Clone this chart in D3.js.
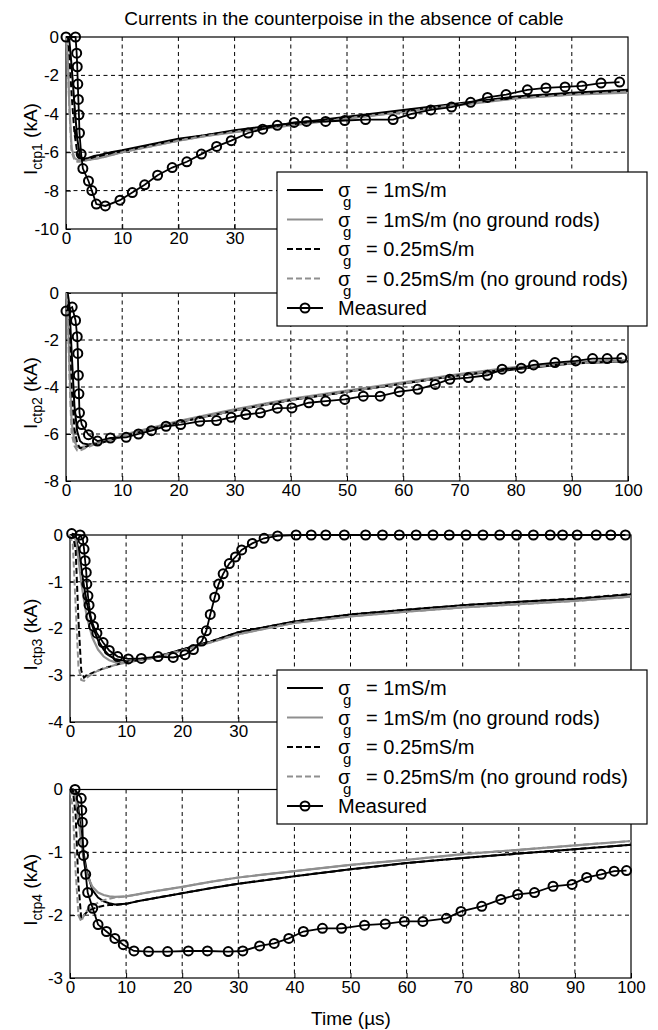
<!DOCTYPE html>
<html>
<head>
<meta charset="utf-8">
<script src="https://cdn.jsdelivr.net/npm/d3@7"></script>
<style>
  body { margin: 0; background: #fff; }
  svg { display: block; font-family: "Liberation Sans", Arial, sans-serif; }
</style>
</head>
<body>
<div id="chart"></div>
<script>
// ---- data ----
const xTicks = [0, 10, 20, 30, 40, 50, 60, 70, 80, 90, 100];

// panel 1 (ctp1)
const p1MeasT = [0, 1.7, 1.9, 2.0, 2.1, 2.2, 2.3, 2.4, 2.7, 3.0, 4.0, 4.6, 5.4, 7.0, 9.6, 11.8, 14.0, 16.3, 18.9, 21.5, 24.1, 26.8, 29.4, 32.4, 35.0, 37.6, 40.6, 42.8, 46.2, 49.6, 53.3, 58.2, 61.5, 64.9, 68.6, 72.0, 75.0, 78.3, 82.1, 85.4, 88.8, 91.8, 95.2, 98.5];
const p1Meas = [0, 0, -0.84, -1.55, -2.45, -3.25, -4.05, -5.0, -6.1, -6.85, -7.5, -8.0, -8.7, -8.8, -8.5, -8.1, -7.7, -7.2, -6.8, -6.5, -6.1, -5.7, -5.4, -5.0, -4.8, -4.6, -4.45, -4.4, -4.4, -4.35, -4.3, -4.3, -4.0, -3.8, -3.65, -3.4, -3.15, -3.0, -2.75, -2.65, -2.6, -2.55, -2.4, -2.35];
const p1SimT = [0, 0.3, 0.6, 1, 1.5, 2, 2.5, 3, 4, 5, 6, 8, 10, 15, 20, 25, 30, 40, 50, 60, 70, 80, 90, 100];
const p1S1 = [0, 0, -0.2, -1.5, -3.5, -5.3, -6.2, -6.35, -6.3, -6.2, -6.15, -6.0, -5.9, -5.6, -5.3, -5.1, -4.85, -4.5, -4.15, -3.8, -3.45, -3.1, -2.9, -2.75];
const p1S1NR = [0, -1.0, -3.5, -5.8, -6.3, -6.4, -6.45, -6.45, -6.4, -6.35, -6.3, -6.15, -6.0, -5.7, -5.4, -5.15, -4.95, -4.6, -4.25, -3.9, -3.55, -3.2, -3.0, -2.9];
const p1S025 = [0, -0.1, -1.0, -3.0, -5.0, -6.0, -6.4, -6.4, -6.35, -6.25, -6.2, -6.05, -5.95, -5.65, -5.35, -5.1, -4.9, -4.55, -4.2, -3.85, -3.5, -3.15, -2.95, -2.8];
const p1S025NR = [0, -1.2, -3.8, -6.0, -6.4, -6.5, -6.5, -6.45, -6.4, -6.35, -6.3, -6.15, -6.0, -5.7, -5.4, -5.15, -4.95, -4.6, -4.25, -3.9, -3.5, -3.2, -3.0, -2.85];

// panel 2 (ctp2)
const p2MeasT = [0, 1.1, 1.7, 2.0, 2.1, 2.2, 2.3, 2.4, 2.8, 4.0, 5.6, 7.9, 10.7, 12.9, 15.2, 17.8, 20.4, 23.8, 26.8, 29.4, 32.0, 34.6, 37.6, 40.2, 43.2, 46.2, 49.6, 52.9, 55.9, 59.3, 62.6, 65.7, 68.3, 71.6, 75.0, 77.6, 81.0, 83.2, 87.0, 90.7, 93.7, 96.3, 98.9];
const p2Meas = [-0.77, -0.6, -1.17, -1.86, -2.57, -3.5, -4.29, -5.1, -5.6, -6.03, -6.3, -6.17, -6.14, -6.0, -5.86, -5.67, -5.6, -5.46, -5.43, -5.29, -5.17, -5.1, -4.9, -4.89, -4.67, -4.6, -4.53, -4.39, -4.39, -4.2, -4.1, -3.89, -3.67, -3.6, -3.5, -3.24, -3.2, -3.06, -2.96, -2.89, -2.79, -2.79, -2.77];
const p2SimT = p1SimT;
const p2S1 = [0, 0, -0.5, -2.5, -4.8, -5.9, -6.3, -6.4, -6.45, -6.4, -6.35, -6.2, -6.1, -5.8, -5.5, -5.25, -5.0, -4.55, -4.2, -3.85, -3.5, -3.25, -3.0, -2.9];
const p2S1NR = [0, -0.6, -3.0, -5.5, -6.3, -6.55, -6.6, -6.55, -6.5, -6.4, -6.35, -6.2, -6.05, -5.75, -5.45, -5.2, -4.95, -4.5, -4.15, -3.8, -3.45, -3.15, -2.95, -2.85];
const p2S025 = [0, -0.2, -1.5, -4.0, -5.8, -6.4, -6.6, -6.6, -6.5, -6.45, -6.4, -6.25, -6.1, -5.8, -5.5, -5.25, -5.0, -4.55, -4.2, -3.85, -3.5, -3.2, -3.0, -2.9];
const p2S025NR = [0, -0.8, -3.5, -6.0, -6.5, -6.7, -6.7, -6.65, -6.55, -6.45, -6.4, -6.25, -6.1, -5.8, -5.5, -5.25, -5.0, -4.55, -4.2, -3.85, -3.5, -3.2, -3.0, -2.9];

// panel 3 (ctp3)
const p3MeasT = [0.3, 1.8, 2.3, 2.5, 2.7, 2.9, 3.0, 3.2, 3.4, 3.7, 4.2, 4.8, 5.9, 7.0, 8.5, 10.4, 12.7, 15.7, 18.4, 20.5, 22.0, 23.5, 24.3, 25.0, 25.8, 26.5, 27.3, 28.4, 29.5, 30.6, 32.5, 34.6, 37.0, 40.3, 43.0, 45.6, 48.9, 52.7, 55.7, 58.7, 61.7, 64.7, 67.6, 70.6, 73.6, 76.6, 79.6, 82.6, 85.6, 87.8, 90.4, 93.8, 96.4, 99.0];
const p3Meas = [0.03, 0, -0.1, -0.3, -0.55, -0.8, -1.05, -1.3, -1.5, -1.75, -1.95, -2.1, -2.3, -2.47, -2.6, -2.65, -2.64, -2.6, -2.62, -2.56, -2.45, -2.27, -2.05, -1.7, -1.33, -1.05, -0.83, -0.61, -0.47, -0.32, -0.18, -0.07, -0.02, 0, 0, 0, 0, 0, 0, 0, 0, 0, 0, 0, 0, 0, 0, 0, 0, 0, 0, 0, 0, 0];
const p3SimT = [0, 0.5, 1, 1.5, 2, 2.5, 3, 4, 5, 6, 7, 8, 10, 12, 15, 20, 25, 30, 40, 50, 60, 70, 80, 90, 100];
const p3S1 = [0, 0, -0.05, -0.3, -0.7, -1.1, -1.45, -1.95, -2.25, -2.45, -2.58, -2.65, -2.7, -2.68, -2.62, -2.45, -2.28, -2.08, -1.85, -1.7, -1.6, -1.5, -1.43, -1.37, -1.27];
const p3S1NR = [0, 0, -0.1, -0.5, -1.0, -1.4, -1.75, -2.2, -2.45, -2.6, -2.68, -2.72, -2.72, -2.68, -2.62, -2.47, -2.3, -2.12, -1.88, -1.74, -1.64, -1.55, -1.48, -1.41, -1.32];
const p3S025 = [0, 0, -0.3, -1.8, -2.9, -3.05, -3.0, -2.95, -2.9, -2.85, -2.82, -2.78, -2.72, -2.68, -2.62, -2.45, -2.28, -2.08, -1.85, -1.7, -1.6, -1.5, -1.43, -1.36, -1.26];
const p3S025NR = [0, -0.2, -1.5, -2.8, -3.1, -3.12, -3.05, -2.97, -2.9, -2.86, -2.82, -2.78, -2.73, -2.69, -2.63, -2.47, -2.3, -2.12, -1.88, -1.74, -1.64, -1.55, -1.48, -1.41, -1.32];

// panel 4 (ctp4)
const p4MeasT = [0.9, 2.0, 2.1, 2.2, 2.3, 2.4, 2.8, 3.15, 4.05, 5.0, 6.5, 8.0, 9.5, 11.4, 14, 17.4, 21.1, 24.5, 28.2, 30.8, 33.8, 36.4, 39, 41.6, 45, 48.4, 52.5, 56.2, 59.6, 62.9, 67.1, 69.7, 73.4, 76.8, 79.8, 82.8, 86.1, 89.5, 92.1, 94.7, 97, 99.2];
const p4Meas = [0, -0.14, -0.33, -0.52, -0.84, -1.05, -1.35, -1.64, -1.89, -2.15, -2.26, -2.37, -2.47, -2.57, -2.58, -2.58, -2.57, -2.57, -2.58, -2.57, -2.49, -2.45, -2.37, -2.26, -2.21, -2.21, -2.16, -2.14, -2.1, -2.1, -2.05, -1.94, -1.86, -1.75, -1.67, -1.64, -1.54, -1.51, -1.4, -1.35, -1.3, -1.29];
const p4SimT = p3SimT;
const p4S1 = [0, 0, -0.05, -0.3, -0.7, -1.05, -1.3, -1.6, -1.72, -1.78, -1.81, -1.83, -1.82, -1.78, -1.73, -1.65, -1.57, -1.5, -1.38, -1.27, -1.17, -1.09, -1.02, -0.95, -0.88];
const p4S1NR = [0, 0, -0.1, -0.45, -0.85, -1.15, -1.35, -1.55, -1.64, -1.68, -1.7, -1.71, -1.7, -1.67, -1.62, -1.55, -1.47, -1.4, -1.3, -1.2, -1.12, -1.03, -0.96, -0.89, -0.82];
const p4S025 = [0, 0, -0.4, -1.5, -2.05, -2.0, -1.95, -1.9, -1.87, -1.85, -1.84, -1.84, -1.82, -1.78, -1.73, -1.65, -1.57, -1.5, -1.38, -1.27, -1.17, -1.09, -1.02, -0.95, -0.88];
const p4S025NR = [0, -0.3, -1.3, -2.0, -2.1, -2.0, -1.93, -1.85, -1.8, -1.76, -1.74, -1.72, -1.7, -1.67, -1.62, -1.55, -1.47, -1.4, -1.3, -1.2, -1.12, -1.03, -0.96, -0.89, -0.82];

const legendLabels = ["= 1mS/m", "= 1mS/m (no ground rods)", "= 0.25mS/m", "= 0.25mS/m (no ground rods)", "Measured"];

// ---- layout ----
const width = 658, height = 1030;
const FONT = 17;
const LEG_X = 277;

const styles = [
  { color: "#000", dash: null, w: 2 },
  { color: "#8f8f8f", dash: null, w: 2.2 },
  { color: "#000", dash: "6,3", w: 2 },
  { color: "#8f8f8f", dash: "6,3", w: 2 }
];

// legendBelow: legend box sits over this panel's x tick labels
const panels = [
  { left: 66, right: 628, top: 37, bottom: 229, ymin: -10, step: 2, sub: "ctp1", legendBelow: true,
    measT: p1MeasT, meas: p1Meas, simT: p1SimT, sims: [p1S1, p1S1NR, p1S025, p1S025NR] },
  { left: 66, right: 628, top: 293, bottom: 481, ymin: -8, step: 2, sub: "ctp2", legendBelow: false,
    measT: p2MeasT, meas: p2Meas, simT: p2SimT, sims: [p2S1, p2S1NR, p2S025, p2S025NR] },
  { left: 70, right: 631, top: 535, bottom: 722, ymin: -4, step: 1, sub: "ctp3", legendBelow: true,
    measT: p3MeasT, meas: p3Meas, simT: p3SimT, sims: [p3S1, p3S1NR, p3S025, p3S025NR] },
  { left: 70, right: 631, top: 789.5, bottom: 978, ymin: -3, step: 1, sub: "ctp4", legendBelow: false,
    measT: p4MeasT, meas: p4Meas, simT: p4SimT, sims: [p4S1, p4S1NR, p4S025, p4S025NR] }
];

const svg = d3.select("#chart").append("svg")
  .attr("width", width)
  .attr("height", height);

svg.append("text")
  .attr("x", 344).attr("y", 25)
  .attr("text-anchor", "middle")
  .style("font-size", "19px")
  .text("Currents in the counterpoise in the absence of cable");

panels.forEach(p => {
  const x = d3.scaleLinear().domain([0, 100]).range([p.left, p.right]);
  const y = d3.scaleLinear().domain([p.ymin, 0]).range([p.bottom, p.top]);
  const yTicks = d3.range(p.ymin, 0.001, p.step);

  const g = svg.append("g");

  // grid
  g.append("g").selectAll("line")
    .data(xTicks.slice(1, -1))
    .join("line")
    .attr("x1", d => x(d)).attr("x2", d => x(d))
    .attr("y1", p.top).attr("y2", p.bottom)
    .attr("stroke", "#000").attr("stroke-width", 1)
    .attr("stroke-dasharray", "4,3.5");
  g.append("g").selectAll("line")
    .data(yTicks.slice(1, -1))
    .join("line")
    .attr("x1", p.left).attr("x2", p.right)
    .attr("y1", d => y(d)).attr("y2", d => y(d))
    .attr("stroke", "#000").attr("stroke-width", 1)
    .attr("stroke-dasharray", "4,3.5");

  // axes
  const xAxis = g.append("g")
    .attr("transform", `translate(0,${p.bottom})`)
    .call(d3.axisBottom(x).tickValues(xTicks).tickSizeInner(-5).tickSizeOuter(0).tickPadding(3));
  const yAxis = g.append("g")
    .attr("transform", `translate(${p.left},0)`)
    .call(d3.axisLeft(y).tickValues(yTicks).tickFormat(d3.format("d")).tickSizeInner(-5).tickSizeOuter(0).tickPadding(7));
  [xAxis, yAxis].forEach(a => {
    a.select(".domain").remove();
    a.selectAll("text").style("font-size", FONT + "px").attr("fill", "#000")
      .style("font-family", "\"Liberation Sans\", Arial, sans-serif");
    a.selectAll("line").attr("stroke", "#000");
  });
  yAxis.selectAll("text").text(d => String(d).replace("\u2212", "-"));
  // labels hidden behind the legend box in the figure
  if (p.legendBelow) {
    xAxis.selectAll(".tick text").filter(d => x(d) > LEG_X - 10).remove();
  }

  // box
  g.append("rect")
    .attr("x", p.left).attr("y", p.top)
    .attr("width", p.right - p.left).attr("height", p.bottom - p.top)
    .attr("fill", "none").attr("stroke", "#000").attr("stroke-width", 1.2);

  // simulated curves
  const line = d3.line().x(d => x(d[0])).y(d => y(d[1]));
  p.sims.forEach((s, i) => {
    const pts = p.simT.map((t, k) => [t, s[k]]);
    g.append("path")
      .attr("d", line(pts))
      .attr("fill", "none")
      .attr("stroke", styles[i].color)
      .attr("stroke-width", styles[i].w)
      .attr("stroke-dasharray", styles[i].dash);
  });

  // measured
  const mpts = p.measT.map((t, k) => [t, p.meas[k]]);
  g.append("path")
    .attr("d", line(mpts))
    .attr("fill", "none").attr("stroke", "#000").attr("stroke-width", 1.8);
  g.append("g").selectAll("circle")
    .data(mpts)
    .join("circle")
    .attr("cx", d => x(d[0])).attr("cy", d => y(d[1]))
    .attr("r", 4.5)
    .attr("fill", "none").attr("stroke", "#000").attr("stroke-width", 2);

  // y label: I_ctpN (kA)
  const cy = (p.top + p.bottom) / 2 + 6;
  const lab = g.append("text")
    .attr("transform", `translate(37,${cy}) rotate(-90)`)
    .attr("text-anchor", "middle")
    .style("font-size", "19px");
  lab.append("tspan").text("I");
  lab.append("tspan").attr("dy", 5).style("font-size", "14px").text(p.sub);
  lab.append("tspan").attr("dy", -5).text(" (kA)");
});

// x label
svg.append("text")
  .attr("x", 351).attr("y", 1025)
  .attr("text-anchor", "middle")
  .style("font-size", "19px")
  .text("Time (\u00b5s)");

// legends
function drawLegend(top) {
  const lg = svg.append("g");
  lg.append("rect")
    .attr("x", LEG_X).attr("y", top)
    .attr("width", 370).attr("height", 154)
    .attr("fill", "#fff").attr("stroke", "#000").attr("stroke-width", 1.2);
  legendLabels.forEach((lbl, i) => {
    const cy = top + 18 + i * 29.5;
    if (i < 4) {
      lg.append("line")
        .attr("x1", 287).attr("x2", 323).attr("y1", cy).attr("y2", cy)
        .attr("stroke", styles[i].color).attr("stroke-width", styles[i].w)
        .attr("stroke-dasharray", styles[i].dash);
      const t = lg.append("text").attr("y", cy + 7).style("font-size", "20px");
      t.append("tspan").attr("x", 338).text("\u03c3");
      t.append("tspan").attr("x", 343).attr("dy", 10).style("font-size", "15px").text("g");
      t.append("tspan").attr("x", 366).attr("dy", -10).text(lbl);
    } else {
      lg.append("line")
        .attr("x1", 287).attr("x2", 323).attr("y1", cy).attr("y2", cy)
        .attr("stroke", "#000").attr("stroke-width", 2);
      lg.append("circle")
        .attr("cx", 305).attr("cy", cy).attr("r", 4.5)
        .attr("fill", "none").attr("stroke", "#000").attr("stroke-width", 2);
      lg.append("text").attr("x", 338).attr("y", cy + 7)
        .style("font-size", "20px").text(lbl);
    }
  });
}
drawLegend(172);
drawLegend(670);
</script>
</body>
</html>
